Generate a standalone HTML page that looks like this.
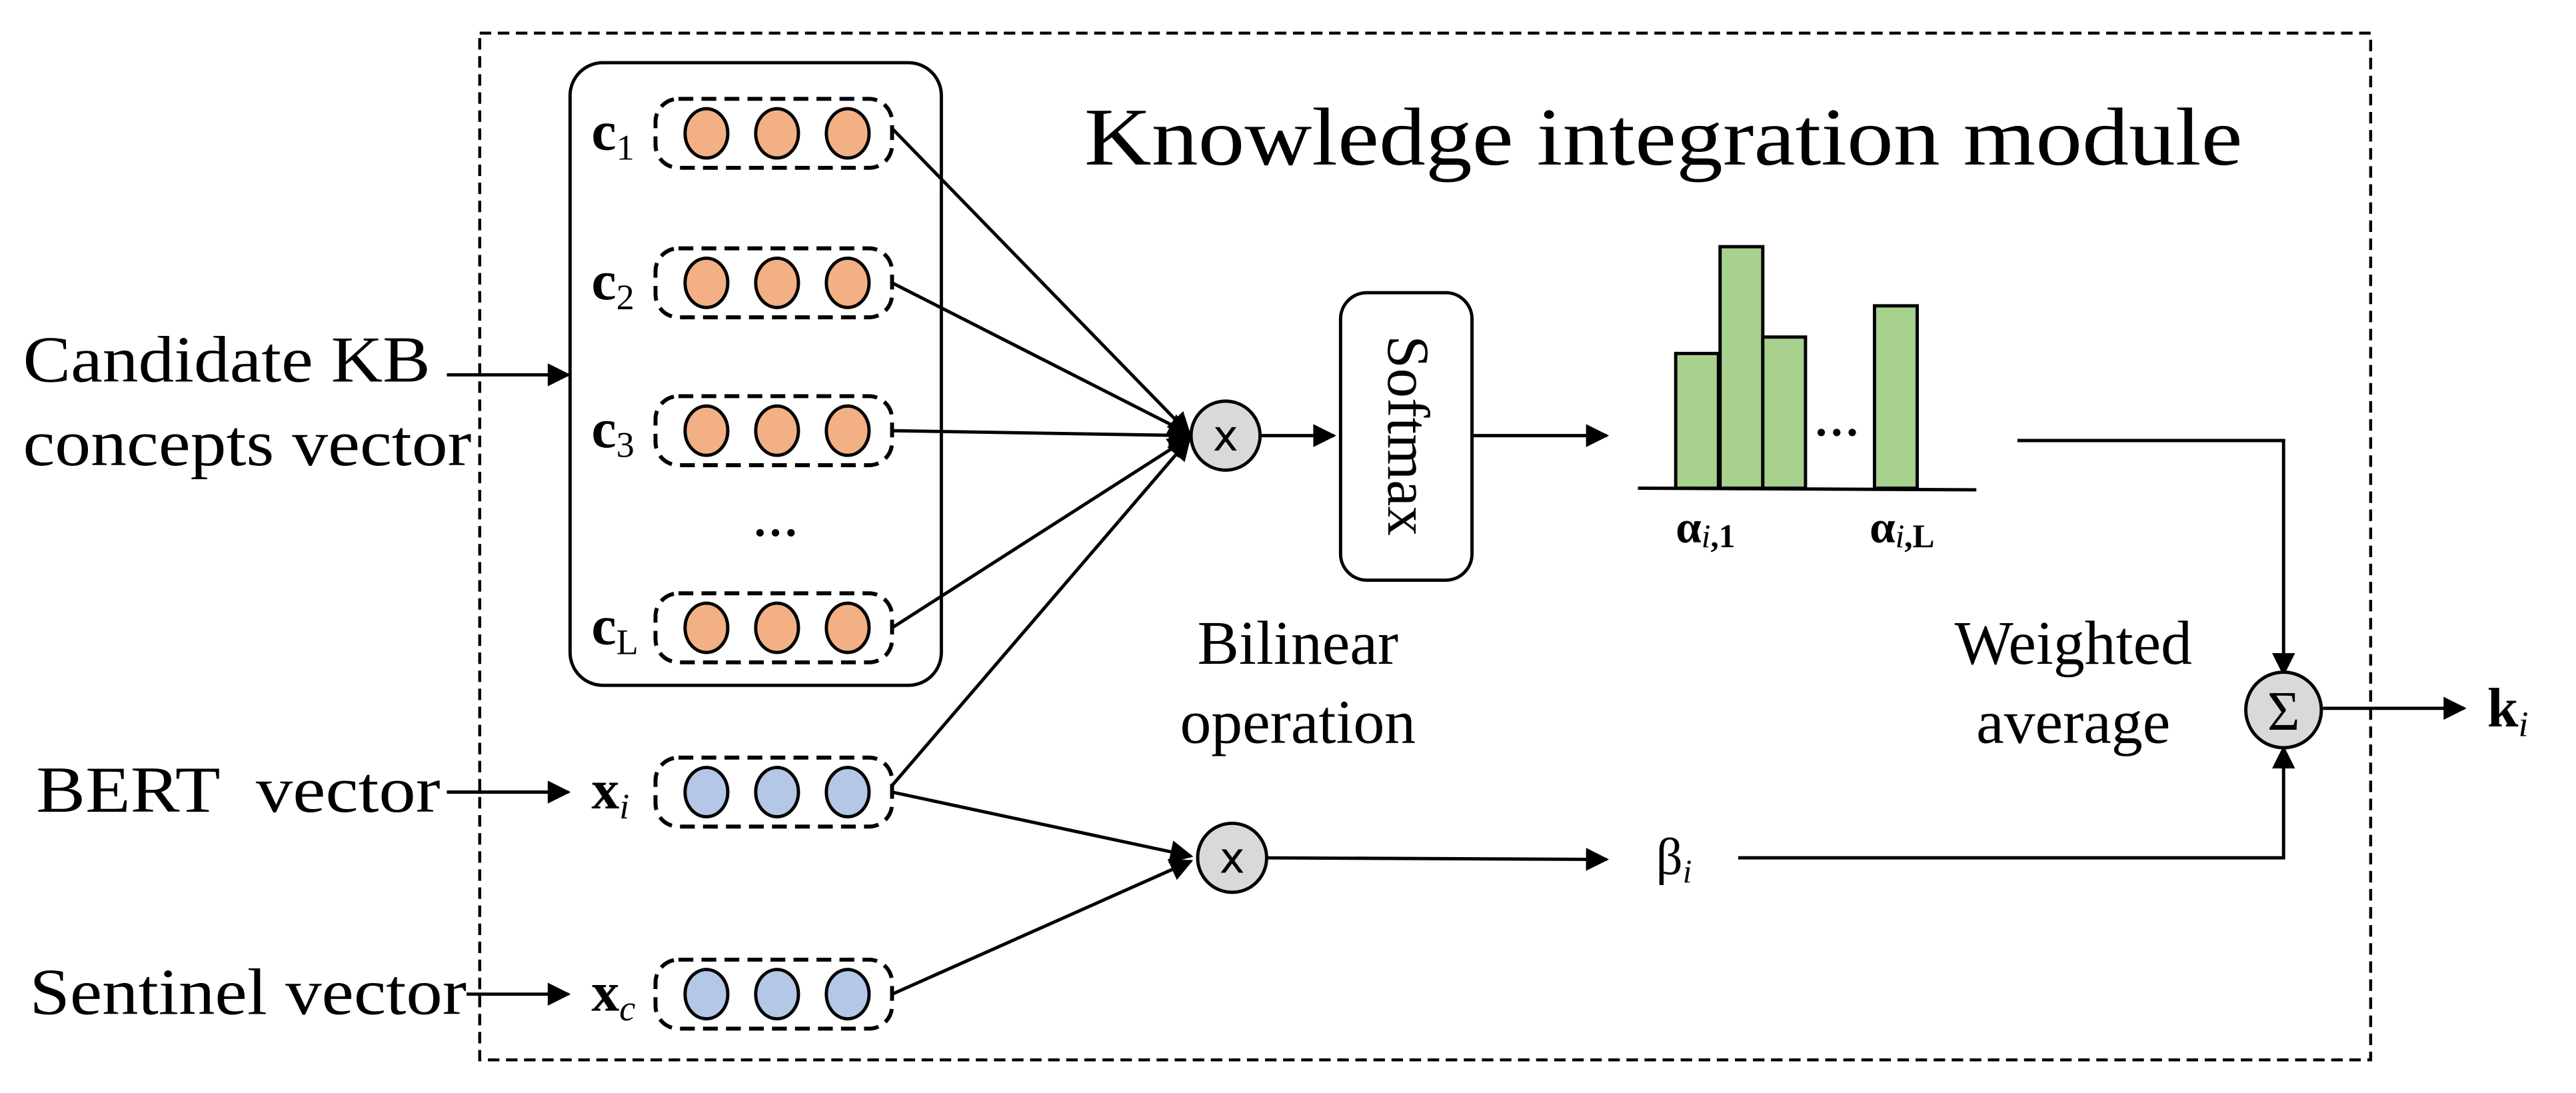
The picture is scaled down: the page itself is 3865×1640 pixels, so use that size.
<!DOCTYPE html>
<html><head><meta charset="utf-8"><style>html,body{margin:0;padding:0;background:#fff}svg{display:block}</style></head>
<body>
<svg width="3865" height="1640" viewBox="0 0 1568 665" xmlns="http://www.w3.org/2000/svg" font-family="'Liberation Serif', serif">
<defs>
<marker id="b" viewBox="0 0 10 10" refX="9" refY="5" markerWidth="18" markerHeight="14" orient="auto" markerUnits="userSpaceOnUse"><path d="M0,0 L10,5 L0,10 z" fill="#000"/></marker>
</defs>
<rect x="292" y="20" width="1151" height="625" fill="none" stroke="#000" stroke-width="1.8" stroke-dasharray="7,4"/>
<rect x="347" y="38" width="226" height="379" rx="20" fill="none" stroke="#000" stroke-width="2"/>
<text x="660" y="100" font-size="50" textLength="705" lengthAdjust="spacingAndGlyphs">Knowledge integration module</text>
<g stroke="#000" stroke-width="2">
<g fill="none" stroke-dasharray="9,5" stroke-width="2.4">
<rect x="399" y="60" width="144" height="42" rx="14"/>
<rect x="399" y="151" width="144" height="42" rx="14"/>
<rect x="399" y="241" width="144" height="42" rx="14"/>
<rect x="399" y="361" width="144" height="42" rx="14"/>
<rect x="399" y="461" width="144" height="42" rx="14"/>
<rect x="399" y="584" width="144" height="42" rx="14"/>
</g>
<g fill="#F2B084">
<ellipse cx="430" cy="81" rx="13" ry="15"/><ellipse cx="473" cy="81" rx="13" ry="15"/><ellipse cx="516" cy="81" rx="13" ry="15"/>
<ellipse cx="430" cy="172" rx="13" ry="15"/><ellipse cx="473" cy="172" rx="13" ry="15"/><ellipse cx="516" cy="172" rx="13" ry="15"/>
<ellipse cx="430" cy="262" rx="13" ry="15"/><ellipse cx="473" cy="262" rx="13" ry="15"/><ellipse cx="516" cy="262" rx="13" ry="15"/>
<ellipse cx="430" cy="382" rx="13" ry="15"/><ellipse cx="473" cy="382" rx="13" ry="15"/><ellipse cx="516" cy="382" rx="13" ry="15"/>
</g>
<g fill="#B4C7E7">
<ellipse cx="430" cy="482" rx="13" ry="15"/><ellipse cx="473" cy="482" rx="13" ry="15"/><ellipse cx="516" cy="482" rx="13" ry="15"/>
<ellipse cx="430" cy="605" rx="13" ry="15"/><ellipse cx="473" cy="605" rx="13" ry="15"/><ellipse cx="516" cy="605" rx="13" ry="15"/>
</g>
<g fill="none" marker-end="url(#b)">
<line x1="543" y1="78" x2="724" y2="264"/>
<line x1="543" y1="172" x2="724" y2="264"/>
<line x1="543" y1="262" x2="724" y2="265"/>
<line x1="543" y1="382" x2="724" y2="266"/>
<line x1="543" y1="478" x2="724" y2="267"/>
<line x1="543" y1="482" x2="725" y2="521"/>
<line x1="543" y1="605" x2="725" y2="524"/>
<line x1="767" y1="265" x2="812" y2="265"/>
<line x1="897" y1="265" x2="978" y2="265"/>
<line x1="767" y1="522" x2="978" y2="523"/>
<polyline points="1228,268 1390,268 1390,410"/>
<polyline points="1058,522 1390,522 1390,455"/>
<line x1="1414" y1="431" x2="1500" y2="431"/>
<line x1="272" y1="228" x2="346" y2="228"/>
<line x1="272" y1="482" x2="346" y2="482"/>
<line x1="284" y1="605" x2="346" y2="605"/>
</g>
<circle cx="746" cy="265" r="21" fill="#D9D9D9"/>
<circle cx="750" cy="522" r="21" fill="#D9D9D9"/>
<circle cx="1390" cy="432" r="23" fill="#D9D9D9"/>
<rect x="816" y="178" width="80" height="175" rx="16" fill="#fff"/>
<g fill="#A9D18E">
<rect x="1020" y="215" width="26" height="82"/>
<rect x="1047" y="150" width="26" height="147"/>
<rect x="1073" y="205" width="26" height="92"/>
<rect x="1141" y="186" width="26" height="111"/>
</g>
<line x1="997" y1="297" x2="1203" y2="298"/>
</g>
<g font-family="'DejaVu Sans', sans-serif" font-size="26" text-anchor="middle">
<text x="746" y="274">x</text><text x="750" y="531">x</text>
</g>
<text x="1390" y="444" font-size="34" text-anchor="middle">Σ</text>
<text transform="translate(845,265) rotate(90)" font-size="36" text-anchor="middle">Softmax</text>
<text x="1118" y="265" font-size="28" font-weight="bold" text-anchor="middle">…</text>
<text x="472" y="326" font-size="28" font-weight="bold" text-anchor="middle">…</text>
<g font-size="28" font-weight="bold"><text x="1020" y="330">α<tspan font-size="20" font-style="italic" font-weight="normal" dy="3">i</tspan><tspan font-size="20">,1</tspan></text>
<text x="1138" y="330">α<tspan font-size="20" font-style="italic" font-weight="normal" dy="3">i</tspan><tspan font-size="20">,L</tspan></text></g>
<g font-size="38" text-anchor="middle">
<text x="790" y="404">Bilinear</text><text x="790" y="452">operation</text>
<text x="1262" y="404">Weighted</text><text x="1262" y="452">average</text>
</g>
<g font-size="40">
<text x="14" y="232" textLength="248" lengthAdjust="spacingAndGlyphs">Candidate KB</text>
<text x="14" y="283" textLength="273" lengthAdjust="spacingAndGlyphs">concepts vector</text>
<text x="22" y="494" textLength="246" lengthAdjust="spacingAndGlyphs" xml:space="preserve">BERT  vector</text>
<text x="18" y="617" textLength="266" lengthAdjust="spacingAndGlyphs">Sentinel vector</text>
</g>
<g font-size="34" font-weight="bold">
<text x="360" y="91">c<tspan font-size="22" font-weight="normal" dy="6">1</tspan></text>
<text x="360" y="182">c<tspan font-size="22" font-weight="normal" dy="6">2</tspan></text>
<text x="360" y="272">c<tspan font-size="22" font-weight="normal" dy="6">3</tspan></text>
<text x="360" y="392">c<tspan font-size="22" font-weight="normal" dy="6">L</tspan></text>
<text x="360" y="492">x<tspan font-size="22" font-weight="normal" font-style="italic" dy="6">i</tspan></text>
<text x="360" y="615">x<tspan font-size="22" font-weight="normal" font-style="italic" dy="6">c</tspan></text>
<text x="1514" y="442">k<tspan font-size="22" font-weight="normal" font-style="italic" dy="6">i</tspan></text>
</g>
<text x="1008" y="532" font-size="32">β<tspan font-size="20" font-style="italic" dy="5">i</tspan></text>
</svg>
</body></html>
